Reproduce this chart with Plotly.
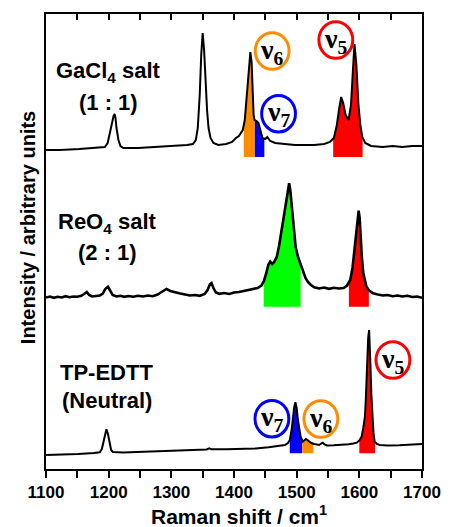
import numpy as np
import plotly.graph_objects as go

# ---------------- data ----------------
gacl4_shift = [1100, 1121.9, 1153.1, 1184.4, 1193.8, 1198.4, 1201.6, 1204.7, 1207.8, 1209.4, 1210.9, 1212.5,
               1215.6, 1218.8, 1223.4, 1246.9, 1278.1, 1301.6, 1325, 1334.4, 1339.1, 1342.2, 1345.3, 1347.7,
               1350, 1352.3, 1354.7, 1357, 1359.4, 1362.5, 1367.2, 1375, 1387.5, 1396.9, 1403.1, 1407.8,
               1410.9, 1414, 1417.2, 1420.3, 1423.4, 1426.1, 1428.1, 1429.7, 1431.3, 1432.8, 1435.9, 1439.1,
               1442.2, 1445.3, 1450, 1453.1, 1457.8, 1465.6, 1481.3, 1496.9, 1512.5, 1528.1, 1543.8, 1553.1,
               1559.4, 1564.1, 1568, 1571.1, 1574.2, 1578.1, 1582.8, 1586.7, 1589.8, 1592.2, 1595.3, 1598.4,
               1601.6, 1604.7, 1609.4, 1618.8, 1637.5, 1653.1, 1668.8, 1684.4, 1700]
gacl4_int = [7, 7, 8, 9, 10, 14, 24, 34, 41, 43, 39, 29,
             17, 11, 9, 9, 10, 11, 12, 13, 17, 29, 62, 102,
             124, 107, 72, 47, 29, 19, 14, 12, 13, 15, 19, 21,
             24, 27, 37, 62, 92, 105, 95, 67, 42, 37, 36, 34,
             27, 19, 18, 20, 16, 14, 13, 12, 12, 12, 13, 15,
             19, 32, 49, 60, 54, 42, 37, 52, 87, 113, 92, 54,
             32, 20, 14, 11, 10, 11, 10, 11, 11]

reo4_shift = [1100, 1106.3, 1112.5, 1118.8, 1125, 1131.3, 1137.5, 1143.8, 1150, 1156.3, 1160.9, 1165.2,
              1168.8, 1173.4, 1179.7, 1185.9, 1190.6, 1194.5, 1198.9, 1202.3, 1206.3, 1212.5, 1218.8, 1225,
              1231.3, 1239.1, 1246.9, 1254.7, 1262.5, 1270.3, 1278.1, 1284.4, 1292.2, 1298.4, 1306.3, 1314.1,
              1321.9, 1329.7, 1337.5, 1345.3, 1353.1, 1357.8, 1361.7, 1364.1, 1367.2, 1371.1, 1376.6, 1384.4,
              1392.2, 1400, 1407.8, 1415.6, 1423.4, 1431.3, 1437.5, 1443.8, 1447.7, 1451.6, 1454.7, 1457.8,
              1460.9, 1464.1, 1468.3, 1471.9, 1475, 1478.6, 1481.3, 1483.9, 1485.9, 1488, 1489.8, 1491.7,
              1493.8, 1495.8, 1498.4, 1502, 1506.3, 1509.8, 1514.1, 1517.7, 1522.7, 1528.1, 1535.9, 1543.8,
              1551.6, 1559.4, 1567.2, 1575, 1580.5, 1585.5, 1589.1, 1591.7, 1593.8, 1595.8, 1597.7, 1598.9,
              1600.5, 1602, 1603.9, 1606.3, 1608.6, 1611.4, 1615.6, 1621.9, 1629.7, 1637.5, 1645.3, 1653.1,
              1660.9, 1668.8, 1676.6, 1684.4, 1692.2, 1700]
reo4_int = [9.2, 10.2, 8.9, 9.9, 9.2, 10.5, 9.5, 10.2, 9.9, 10.9, 12.7, 14.7,
            11.7, 10.2, 10.7, 11.2, 13.2, 17.7, 20, 15.7, 11.7, 10.2, 10.9, 9.9,
            10.7, 9.9, 10.9, 10.2, 11.2, 10.5, 12.2, 14.7, 17.7, 15.7, 14.2, 13.2,
            12.2, 11.2, 11.7, 10.9, 12.7, 16.7, 22.7, 23.7, 18.7, 14.2, 12.9, 13.7,
            12.7, 14.2, 14.7, 15.7, 16.2, 17.7, 18.7, 21.2, 25.7, 33.7, 41.7, 45.2,
            42.7, 44.7, 50, 60.7, 72.7, 86.7, 96.7, 103.7, 114.7, 123.4, 116.7, 103.7,
            84.7, 70, 59.7, 50, 41.7, 35, 28.7, 25, 21.7, 19.4, 18.2, 19.2,
            17.9, 18.9, 18.2, 18.7, 21.2, 26.7, 38.7, 53.7, 66.7, 80, 91.7, 96,
            88.7, 70, 50.7, 33.7, 25.7, 20, 16.2, 13.4, 12.2, 11.2, 11.7, 10.5,
            11.2, 10.2, 10.9, 9.7, 10.2, 8.9]

tp_shift = [1100, 1121.9, 1151.6, 1176.6, 1185.9, 1189.1, 1191.1, 1193.4, 1196.4, 1198.9, 1201.6, 1203.9,
            1206.7, 1223.4, 1256.3, 1285.9, 1307.8, 1340.6, 1356.3, 1360.5, 1364.1, 1387.5, 1412.5, 1434.4,
            1455.2, 1470.3, 1481.3, 1486, 1489.1, 1491.9, 1494.2, 1496.1, 1498, 1500, 1502, 1504.2,
            1506.3, 1509.8, 1512.5, 1514.8, 1517.2, 1519.5, 1523.4, 1528.1, 1535.9, 1539.1, 1541.7, 1544.5,
            1548.4, 1559.4, 1569.8, 1582.8, 1590.6, 1595.8, 1600, 1603.6, 1606.3, 1608.9, 1610.3, 1611.4,
            1612.8, 1614.1, 1615.6, 1616.9, 1618, 1619.2, 1620.8, 1622.7, 1624.5, 1628.1, 1632.3, 1645.3,
            1663.6, 1681.3, 1700]
tp_int = [2, 2.2, 3, 4, 4.7, 8, 14, 22, 27.7, 23, 12, 7,
          5, 4.5, 5.3, 6, 7, 7.5, 7.5, 8.7, 7.7, 7.8, 8.3, 8.5,
          9.7, 10.7, 12, 14, 17, 27, 40.3, 50, 54.7, 49, 37, 27,
          20.3, 15.3, 17, 18, 17, 15.5, 14, 13, 12, 13.5, 14.3, 12.5,
          11.5, 11.7, 12, 12.7, 13.5, 14.3, 16.5, 20.3, 29, 40.3, 57, 77,
          102, 119, 127, 112, 87, 62, 37, 23, 15.3, 13, 12, 11.5,
          11.7, 12.3, 13]

# vertical stacking offsets and the floor of the coloured areas
offsets = {"GaCl4": 312, "ReO4": 162.3, "TP": 12}
fill_floor = {"GaCl4": 312, "ReO4": 162.3, "TP": 15.7}

# coloured band limits (Raman shift, cm-1)
bands = [
    ("GaCl4", 1415.6, 1433.3, "#FF8C00"),
    ("GaCl4", 1433.3, 1448.4, "#0000FF"),
    ("GaCl4", 1558.3, 1605.2, "#FF0000"),
    ("ReO4", 1447.4, 1506.3, "#00FF00"),
    ("ReO4", 1583.3, 1615.2, "#FF0000"),
    ("TP", 1489.0, 1508.9, "#0000FF"),
    ("TP", 1508.9, 1526.6, "#FF8C00"),
    ("TP", 1600.0, 1625.0, "#FF0000"),
]

sample_labels = [
    ("GaCl<sub>4</sub> salt", "(1 : 1)", 1200, 397, 367),
    ("ReO<sub>4</sub> salt", "(2 : 1)", 1198.4, 246, 217),
    ("TP-EDTT", "(Neutral)", 1196.9, 97, 69),
]

# mode labels: subscript, centre x, centre y, colour
mode_labels = [
    ("6", 1460.9, 418, "#FF8C00"),
    ("7", 1471.1, 355.3, "#0000FF"),
    ("5", 1562.5, 429, "#FF0000"),
    ("7", 1460.5, 50.3, "#0000FF"),
    ("6", 1538.6, 50, "#FF8C00"),
    ("5", 1653.6, 109, "#FF0000"),
]

x_range = [1100, 1700]
major_dtick = 100
minor_dtick = 50

# ---------------- figure ----------------
spectra = {
    "GaCl4": (np.array(gacl4_shift), np.array(gacl4_int) + offsets["GaCl4"], 2.0),
    "ReO4": (np.array(reo4_shift), np.array(reo4_int) + offsets["ReO4"], 2.6),
    "TP": (np.array(tp_shift), np.array(tp_int) + offsets["TP"], 2.0),
}

fig = go.Figure()

for key, a, b, col in bands:
    sx, sy = spectra[key][0], spectra[key][1]
    xs = np.linspace(a, b, 80)
    ys = np.interp(xs, sx, sy)
    px = np.concatenate([xs, [b, a]])
    py = np.concatenate([ys, [fill_floor[key], fill_floor[key]]])
    fig.add_trace(go.Scatter(x=px, y=py, mode="lines", fill="toself", fillcolor=col,
                             line=dict(width=0, color=col), hoverinfo="skip", showlegend=False))

for key, (sx, sy, lw) in spectra.items():
    fig.add_trace(go.Scatter(x=sx, y=sy, mode="lines", line=dict(color="black", width=lw),
                             showlegend=False))

# invisible trace on top axis for mirrored inner ticks
fig.add_trace(go.Scatter(x=x_range, y=[0, 0], xaxis="x2", mode="lines",
                         line=dict(width=0), hoverinfo="skip", showlegend=False))

font_family = "Liberation Sans, Arial, sans-serif"
annotations = []
for l1, l2, x, y1, y2 in sample_labels:
    annotations.append(dict(x=x, y=y1, xref="x", yref="y", text=l1, showarrow=False,
                            font=dict(family=font_family, size=22, color="black", weight="bold")))
    annotations.append(dict(x=x, y=y2, xref="x", yref="y", text=l2, showarrow=False,
                            font=dict(family=font_family, size=22, color="black", weight="bold")))

shapes = []
rx, ry = 27.0, 18.3
for sub, cx, cy, col in mode_labels:
    shapes.append(dict(type="circle", xref="x", yref="y", x0=cx - rx, x1=cx + rx,
                       y0=cy - ry, y1=cy + ry, line=dict(color=col, width=3)))
    annotations.append(dict(x=cx, y=cy, xref="x", yref="y", text="ν<sub>" + sub + "</sub>",
                            showarrow=False,
                            font=dict(family="Liberation Serif, Times New Roman, serif", size=28,
                                      color="black", weight="bold")))

annotations.append(dict(x=-0.047, y=0.53, xref="paper", yref="paper", text="Intensity / arbitrary units",
                        textangle=-90, showarrow=False, xanchor="center", yanchor="middle",
                        font=dict(family=font_family, size=20, color="black", weight="bold")))
annotations.append(dict(x=0.512, y=-0.101, xref="paper", yref="paper", text="Raman shift / cm<sup>1</sup>",
                        showarrow=False, xanchor="center", yanchor="middle",
                        font=dict(family=font_family, size=21, color="black", weight="bold")))

fig.update_layout(
    width=453, height=527,
    margin=dict(l=46, r=23, t=14, b=58),
    paper_bgcolor="white", plot_bgcolor="white",
    shapes=shapes, annotations=annotations,
    xaxis=dict(range=x_range, tick0=1100, dtick=major_dtick, ticks="outside",
               ticklen=7, tickwidth=1.5, tickcolor="black", showline=True, linecolor="black",
               linewidth=1.5, showgrid=False, zeroline=False,
               minor=dict(dtick=minor_dtick, tick0=1100, ticks="outside", ticklen=7, tickwidth=1.5,
                          tickcolor="black", showgrid=False),
               tickfont=dict(family=font_family, size=17, color="black", weight="bold")),
    xaxis2=dict(range=x_range, overlaying="x", side="top", tick0=1100, dtick=major_dtick,
                showticklabels=False, ticks="inside", ticklen=6, tickwidth=1.5,
                tickcolor="black", showline=True, linecolor="black", linewidth=1.5,
                minor=dict(dtick=minor_dtick, tick0=1100, ticks="inside", ticklen=6, tickwidth=1.5,
                           tickcolor="black", showgrid=False),
                showgrid=False, zeroline=False),
    yaxis=dict(range=[0, 455], showticklabels=False, ticks="", showline=True, mirror=True,
               linecolor="black", linewidth=1.5, showgrid=False, zeroline=False),
)

fig.write_html("out.html")
